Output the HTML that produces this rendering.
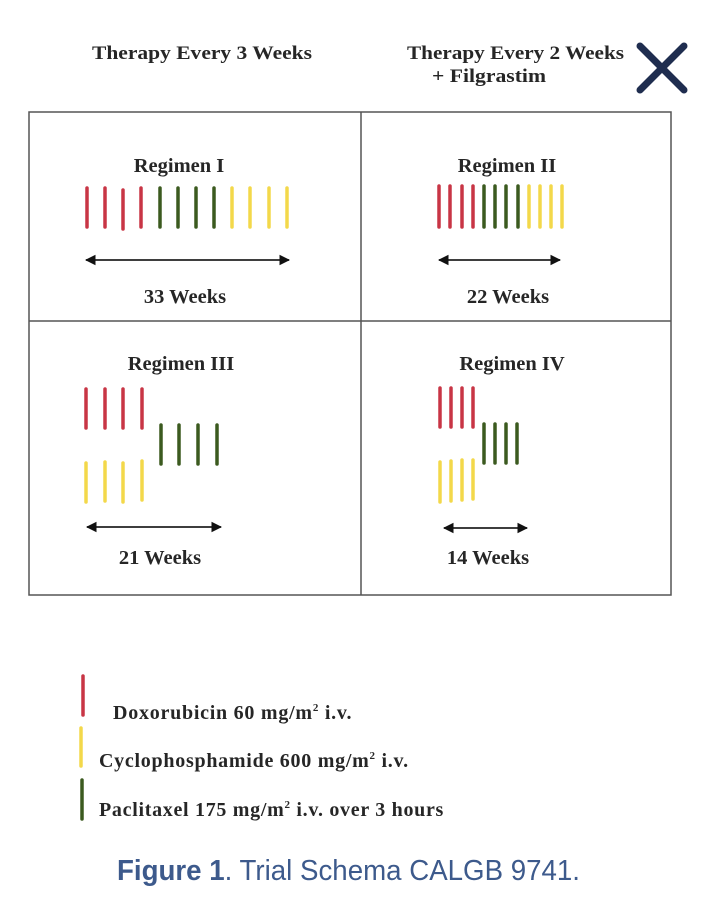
<!DOCTYPE html>
<html><head><meta charset="utf-8"><style>
html,body{margin:0;padding:0;background:#fff;}
svg{display:block;}
.t{font-family:"Liberation Serif",serif;font-weight:bold;fill:#262626;font-size:19px;}
.r{font-size:20.5px;}
.c{font-family:"Liberation Sans",sans-serif;font-size:29px;fill:#3d5a8c;}
</style></head><body>
<svg width="713" height="905" viewBox="0 0 713 905" xmlns="http://www.w3.org/2000/svg">
<defs><marker id="ah" viewBox="0 0 10 10" refX="9" refY="5" markerWidth="6" markerHeight="6" orient="auto-start-reverse"><path d="M0,0L10,5L0,10z" fill="#111"/></marker></defs>
<text class="t" x="92" y="59" textLength="220" lengthAdjust="spacingAndGlyphs">Therapy Every 3 Weeks</text>
<text class="t" x="407" y="59" textLength="217" lengthAdjust="spacingAndGlyphs">Therapy Every 2 Weeks</text>
<text class="t" x="432" y="82" textLength="114" lengthAdjust="spacingAndGlyphs">+ Filgrastim</text>
<path d="M640,46L684,90M684,46L640,90" stroke="#1f2d4f" stroke-width="7" stroke-linecap="round"/>
<rect x="29" y="112" width="642" height="483" fill="none" stroke="#555" stroke-width="1.5"/>
<line x1="361" y1="112" x2="361" y2="595" stroke="#555" stroke-width="1.5"/>
<line x1="29" y1="321" x2="671" y2="321" stroke="#555" stroke-width="1.5"/>
<g stroke-width="3.5" stroke-linecap="round">
<g stroke="#c83545"><line x1="87" y1="188" x2="87" y2="227"/><line x1="105" y1="188" x2="105" y2="227"/><line x1="123" y1="190" x2="123" y2="229"/><line x1="141" y1="188" x2="141" y2="227"/></g>
<g stroke="#3b5a1f"><line x1="160" y1="188" x2="160" y2="227"/><line x1="178" y1="188" x2="178" y2="227"/><line x1="196" y1="188" x2="196" y2="227"/><line x1="214" y1="188" x2="214" y2="227"/></g>
<g stroke="#f3d84a"><line x1="232" y1="188" x2="232" y2="227"/><line x1="250" y1="188" x2="250" y2="227"/><line x1="269" y1="188" x2="269" y2="227"/><line x1="287" y1="188" x2="287" y2="227"/></g>
<g stroke="#c83545"><line x1="439" y1="186" x2="439" y2="227"/><line x1="450" y1="186" x2="450" y2="227"/><line x1="462" y1="186" x2="462" y2="227"/><line x1="473" y1="186" x2="473" y2="227"/></g>
<g stroke="#3b5a1f"><line x1="484" y1="186" x2="484" y2="227"/><line x1="495" y1="186" x2="495" y2="227"/><line x1="506" y1="186" x2="506" y2="227"/><line x1="518" y1="186" x2="518" y2="227"/></g>
<g stroke="#f3d84a"><line x1="529" y1="186" x2="529" y2="227"/><line x1="540" y1="186" x2="540" y2="227"/><line x1="551" y1="186" x2="551" y2="227"/><line x1="562" y1="186" x2="562" y2="227"/></g>
<g stroke="#c83545"><line x1="86" y1="389" x2="86" y2="428"/><line x1="105" y1="389" x2="105" y2="428"/><line x1="123" y1="389" x2="123" y2="428"/><line x1="142" y1="389" x2="142" y2="428"/></g>
<g stroke="#3b5a1f"><line x1="161" y1="425" x2="161" y2="464"/><line x1="179" y1="425" x2="179" y2="464"/><line x1="198" y1="425" x2="198" y2="464"/><line x1="217" y1="425" x2="217" y2="464"/></g>
<g stroke="#f3d84a"><line x1="86" y1="463" x2="86" y2="502"/><line x1="105" y1="462" x2="105" y2="501"/><line x1="123" y1="463" x2="123" y2="502"/><line x1="142" y1="461" x2="142" y2="500"/></g>
<g stroke="#c83545"><line x1="440" y1="388" x2="440" y2="427"/><line x1="451" y1="388" x2="451" y2="427"/><line x1="462" y1="388" x2="462" y2="427"/><line x1="473" y1="388" x2="473" y2="427"/></g>
<g stroke="#3b5a1f"><line x1="484" y1="424" x2="484" y2="463"/><line x1="495" y1="424" x2="495" y2="463"/><line x1="506" y1="424" x2="506" y2="463"/><line x1="517" y1="424" x2="517" y2="463"/></g>
<g stroke="#f3d84a"><line x1="440" y1="462" x2="440" y2="502"/><line x1="451" y1="461" x2="451" y2="501"/><line x1="462" y1="460" x2="462" y2="500"/><line x1="473" y1="460" x2="473" y2="499"/></g>
<line x1="83" y1="676" x2="83" y2="715" stroke="#c83545"/>
<line x1="81" y1="728" x2="81" y2="766" stroke="#f3d84a"/>
<line x1="82" y1="780" x2="82" y2="819" stroke="#3b5a1f"/>
</g>
<g stroke="#222" stroke-width="1.8" marker-start="url(#ah)" marker-end="url(#ah)">
<line x1="86" y1="260" x2="289" y2="260"/>
<line x1="439" y1="260" x2="560" y2="260"/>
<line x1="87" y1="527" x2="221" y2="527"/>
<line x1="444" y1="528" x2="527" y2="528"/>
</g>
<text class="t r" x="179" y="172" text-anchor="middle">Regimen I</text>
<text class="t r" x="507" y="172" text-anchor="middle">Regimen II</text>
<text class="t r" x="181" y="370" text-anchor="middle">Regimen III</text>
<text class="t r" x="512" y="370" text-anchor="middle">Regimen IV</text>
<text class="t r" x="185" y="303" text-anchor="middle">33 Weeks</text>
<text class="t r" x="508" y="303" text-anchor="middle">22 Weeks</text>
<text class="t r" x="160" y="564" text-anchor="middle">21 Weeks</text>
<text class="t r" x="488" y="564" text-anchor="middle">14 Weeks</text>
<text class="t" x="113" y="719" style="font-size:20px;letter-spacing:0.75px">Doxorubicin 60 mg/m<tspan dy="-8" font-size="11">2</tspan><tspan dy="8"> i.v.</tspan></text>
<text class="t" x="99" y="767" style="font-size:20px;letter-spacing:0.73px">Cyclophosphamide 600 mg/m<tspan dy="-8" font-size="11">2</tspan><tspan dy="8"> i.v.</tspan></text>
<text class="t" x="99" y="816" style="font-size:20px;letter-spacing:0.7px">Paclitaxel 175 mg/m<tspan dy="-8" font-size="11">2</tspan><tspan dy="8"> i.v. over 3 hours</tspan></text>
<text class="c" x="117" y="880" textLength="463" lengthAdjust="spacingAndGlyphs"><tspan font-weight="bold">Figure 1</tspan>. Trial Schema CALGB 9741.</text>
</svg>
</body></html>
